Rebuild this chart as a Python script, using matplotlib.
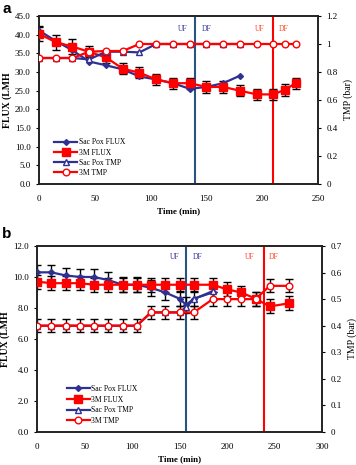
import numpy as np
import matplotlib
matplotlib.use('Agg')
import matplotlib.pyplot as plt

plt.rcParams['font.family'] = 'Liberation Serif'
plt.rcParams['font.size'] = 6

BLUE = '#2e3192'
VBLUE = '#2b5382'
RED = '#ff0000'

# ---- dados painel a ----
t_a_3m = [0, 15, 30, 45, 60, 75, 90, 105, 120, 135, 150, 165, 180, 195, 210, 220, 230]
flux_a_3m = [40.2, 38.0, 36.8, 35.4, 33.9, 30.9, 29.8, 28.0, 27.0, 27.0, 26.0, 26.0, 25.0, 24.0, 24.0, 25.2, 27.0]
err_a_3m = [2.0, 2.0, 2.0, 1.5, 1.5, 1.5, 1.5, 1.5, 1.5, 1.5, 1.5, 1.5, 1.5, 1.5, 1.5, 1.5, 1.5]
tmp_a_3m = [0.9, 0.9, 0.9, 0.945, 0.95, 0.95, 1, 1, 1, 1, 1, 1, 1, 1, 1, 1, 1]

t_a_sp = [0, 15, 30, 45, 60, 75, 90, 105, 120, 135, 150, 165, 180]
flux_a_sp = [41.1, 38.3, 35.8, 32.8, 31.8, 30.7, 28.8, 28.0, 27.0, 25.5, 26.0, 27.0, 29.0]
err_a_sp0 = 1.0
tmp_a_sp = [0.9, 0.9, 0.9, 0.89, 0.945, 0.945, 0.94, 1, 1, 1, 1, 1, 1]

# ---- dados painel b ----
t_b_3m = [0, 15, 30, 45, 60, 75, 90, 105, 120, 135, 150, 165, 185, 200, 215, 230, 245, 265]
flux_b_3m = [9.7, 9.6, 9.6, 9.6, 9.5, 9.5, 9.5, 9.5, 9.5, 9.5, 9.5, 9.5, 9.5, 9.2, 9.0, 8.6, 8.1, 8.3]
err_b_3m = [0.45] * 18
tmp_b_3m = [0.4, 0.4, 0.4, 0.4, 0.4, 0.4, 0.4, 0.4, 0.45, 0.45, 0.45, 0.45, 0.5, 0.5, 0.5, 0.5, 0.55, 0.55]
err_tmp_b_3m = [0.025] * 18

t_b_sp = [0, 15, 30, 45, 60, 75, 90, 105, 120, 135, 150, 157, 165, 185]
flux_b_sp = [10.3, 10.3, 10.1, 10.0, 10.0, 9.8, 9.5, 9.5, 9.3, 9.0, 8.6, 8.2, 8.6, 9.0]
err_b_sp = [0.5] * 14
tmp_b_sp = [0.4, 0.4, 0.4, 0.4, 0.4, 0.4, 0.4, 0.4, 0.45, 0.45, 0.45, 0.47, 0.5, 0.53]

W, H = 356, 465
fig = plt.figure(figsize=(W / 100, H / 100), dpi=100)


def painel(rect, xmax, xstep, ymax, ystep, tmax, tstep, tfmt,
           sp_t, sp_f, sp_tmp, m_t, m_f, m_tmp, m_err, sp_err, tmp_err,
           vl_blue, vl_red, uf_y, uf_pos):
    ax = fig.add_axes(rect)
    ax2 = ax.twinx()
    ax.set_zorder(2)
    ax.patch.set_visible(False)
    ax2.set_zorder(1)

    # linhas verticais UF / DF
    ax.axvline(vl_blue, color=VBLUE, lw=1.5, zorder=1)
    ax.axvline(vl_red, color=RED, lw=1.5, zorder=1)

    # barras de erro
    ek = dict(fmt='none', ecolor='black', elinewidth=1, capsize=2.6, capthick=1, zorder=2)
    ax.errorbar(m_t, m_f, yerr=m_err, **ek)
    if sp_err is not None:
        ax.errorbar(sp_t[:len(sp_err)], sp_f[:len(sp_err)], yerr=sp_err, **ek)
    if tmp_err is not None:
        k = ymax / tmax
        ax.errorbar(m_t, np.array(m_tmp) * k, yerr=np.array(tmp_err) * k, **ek)

    # séries (TMP convertido para escala do eixo esquerdo para controlar a ordem)
    k = ymax / tmax
    l1, = ax.plot(sp_t, sp_f, color=BLUE, marker='D', ms=3, lw=1.6, zorder=3, label='Sac Pox FLUX')
    l2, = ax.plot(m_t, m_f, color=RED, marker='s', ms=5.5, lw=1.6, zorder=4, label='3M FLUX')
    l3, = ax.plot(sp_t, np.array(sp_tmp) * k, color=BLUE, marker='^', ms=4.5, mfc='white',
                  mew=1, lw=1.6, zorder=5, label='Sac Pox TMP')
    l4, = ax.plot(m_t, np.array(m_tmp) * k, color=RED, marker='o', ms=4.8, mfc='white',
                  mew=1, lw=1.6, zorder=6, label='3M TMP')

    ax.set_xlim(0, xmax)
    ax.set_ylim(0, ymax)
    ax2.set_ylim(0, tmax)
    ax.set_xticks(np.arange(0, xmax + 1, xstep))
    ax.set_yticks(np.arange(0, ymax + 0.01, ystep))
    ax.set_yticklabels(['%.1f' % v for v in np.arange(0, ymax + 0.01, ystep)])
    tv = np.arange(0, tmax + 0.0001, tstep)
    ax2.set_yticks(tv)
    ax2.set_yticklabels([tfmt(v) for v in tv])
    for a in (ax, ax2):
        a.tick_params(direction='out', length=2, width=0.8, labelsize=6.5, pad=4)
        for s in a.spines.values():
            s.set_linewidth(1.2)
            s.set_color('#222222')
    ax.tick_params(axis='x', length=0, pad=8)

    ax.set_xlabel('Time (min)', fontweight='bold', fontsize=6.5, labelpad=3)
    ax.set_ylabel('FLUX (LMH', fontweight='bold', fontsize=7, labelpad=2)
    ax2.set_ylabel('TMP (bar)', fontsize=7, labelpad=4)

    # textos UF / DF
    ax.text(uf_pos[0], uf_y, 'UF', color='#333399', fontsize=5.5, ha='center', va='center')
    ax.text(uf_pos[1], uf_y, 'DF', color='#333399', fontsize=5.5, ha='center', va='center')
    ax.text(uf_pos[2], uf_y, 'UF', color='#ff4422', fontsize=5.5, ha='center', va='center')
    ax.text(uf_pos[3], uf_y, 'DF', color='#ff4422', fontsize=5.5, ha='center', va='center')
    return ax, [l1, l2, l3, l4]


fmt_a = lambda v: '%g' % round(v, 1)

ax_a, linhas = painel([0.1096, 0.6043, 0.7837, 0.3613], 250, 50, 45, 5, 1.2, 0.2, fmt_a,
                      t_a_sp, flux_a_sp, tmp_a_sp, t_a_3m, flux_a_3m, tmp_a_3m, err_a_3m,
                      [err_a_sp0], None, 140, 210, 41.5, [129, 150.5, 198, 219])
ax_a.legend(handles=linhas, loc='lower left', bbox_to_anchor=(0.03, 0.0), frameon=False,
            fontsize=5.5, handlelength=3, labelspacing=0.3, handletextpad=0.2)

ax_b, linhas = painel([0.104, 0.071, 0.8005, 0.40], 300, 50, 12, 2, 0.7, 0.1, fmt_a,
                      t_b_sp, flux_b_sp, tmp_b_sp, t_b_3m, flux_b_3m, tmp_b_3m, err_b_3m,
                      err_b_sp, err_tmp_b_3m, 157, 239, 11.3, [145, 169, 224, 249])
ax_b.legend(handles=linhas, loc='lower left', bbox_to_anchor=(0.08, 0.0), frameon=False,
            fontsize=5.5, handlelength=3, labelspacing=0.35, handletextpad=0.2)

fig.text(0.006, 0.995, 'a', fontsize=11, fontweight='bold', family='Liberation Sans', va='top')
fig.text(0.006, 0.512, 'b', fontsize=11, fontweight='bold', family='Liberation Sans', va='top')

fig.savefig('out.png', dpi=100)
